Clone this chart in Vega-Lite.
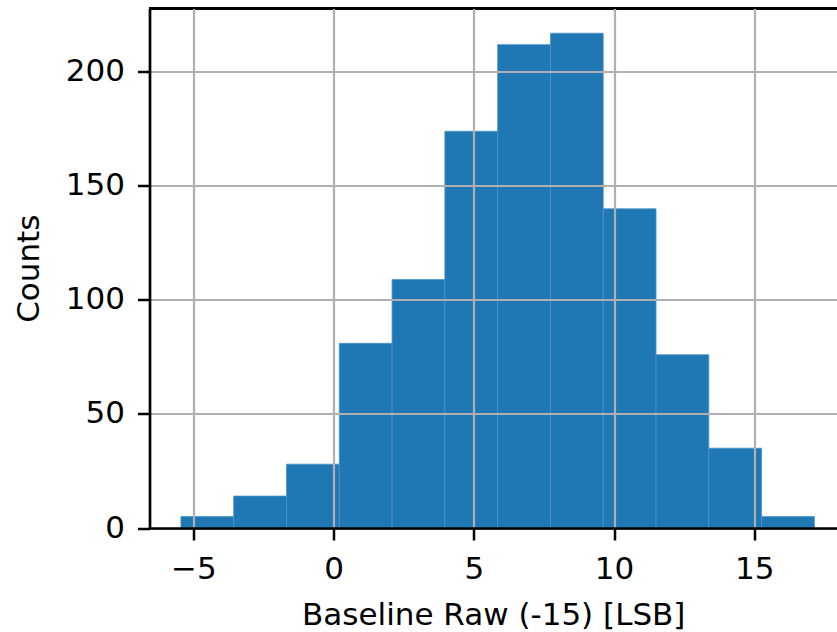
{
  "$schema": "https://vega.github.io/schema/vega-lite/v6.json",
  "width": 687.5,
  "height": 519.5,
  "autosize": {"type": "none"},
  "padding": {"left": 149.5, "top": 8.5, "right": 0, "bottom": 104},
  "background": "white",
  "config": {"view": {"stroke": null}, "font": "DejaVu Sans"},
  "data": {
    "values": [
      {"bin_start": -5.44, "bin_end": -3.558, "count": 5},
      {"bin_start": -3.558, "bin_end": -1.676, "count": 14},
      {"bin_start": -1.676, "bin_end": 0.206, "count": 28},
      {"bin_start": 0.206, "bin_end": 2.088, "count": 81},
      {"bin_start": 2.088, "bin_end": 3.97, "count": 109},
      {"bin_start": 3.97, "bin_end": 5.852, "count": 174},
      {"bin_start": 5.852, "bin_end": 7.734, "count": 212},
      {"bin_start": 7.734, "bin_end": 9.616, "count": 217},
      {"bin_start": 9.616, "bin_end": 11.498, "count": 140},
      {"bin_start": 11.498, "bin_end": 13.38, "count": 76},
      {"bin_start": 13.38, "bin_end": 15.262, "count": 35},
      {"bin_start": 15.262, "bin_end": 17.144, "count": 5}
    ]
  },
  "layer": [
    {
      "mark": {"type": "rect", "color": "#1f77b4", "stroke": "#4a93c8", "strokeWidth": 0.8},
      "encoding": {
        "x": {
          "field": "bin_start",
          "type": "quantitative",
          "scale": {"domain": [-6.56, 17.95], "nice": false, "zero": false},
          "axis": {
            "title": "Baseline Raw (-15) [LSB]",
            "values": [-5, 0, 5, 10, 15],
            "grid": true,
            "gridColor": "#b0b0b0",
            "gridWidth": 2.2,
            "domainColor": "black",
            "domainWidth": 2.7,
            "tickColor": "black",
            "tickWidth": 2.5,
            "tickSize": 12,
            "labelFontSize": 31,
            "labelColor": "black",
            "labelPadding": 14,
            "labelFlush": false,
            "labelOverlap": false,
            "titleFontSize": 31,
            "titleFontWeight": "normal",
            "titleColor": "black",
            "titlePadding": 16,
            "zindex": 1
          }
        },
        "x2": {"field": "bin_end"},
        "y": {
          "field": "count",
          "type": "quantitative",
          "scale": {"domain": [0, 227.85], "nice": false, "zero": true},
          "axis": {
            "title": "Counts",
            "values": [0, 50, 100, 150, 200],
            "grid": true,
            "gridColor": "#b0b0b0",
            "gridWidth": 2.2,
            "domainColor": "black",
            "domainWidth": 2.7,
            "tickColor": "black",
            "tickWidth": 2.5,
            "tickSize": 12,
            "labelFontSize": 31,
            "labelColor": "black",
            "labelPadding": 13,
            "labelFlush": false,
            "labelOverlap": false,
            "titleFontSize": 31,
            "titleFontWeight": "normal",
            "titleColor": "black",
            "titlePadding": 20,
            "zindex": 1
          }
        },
        "y2": {"datum": 0}
      }
    },
    {
      "mark": {"type": "rule", "color": "black", "strokeWidth": 2.7},
      "encoding": {"y": {"datum": 227.85}}
    }
  ]
}
